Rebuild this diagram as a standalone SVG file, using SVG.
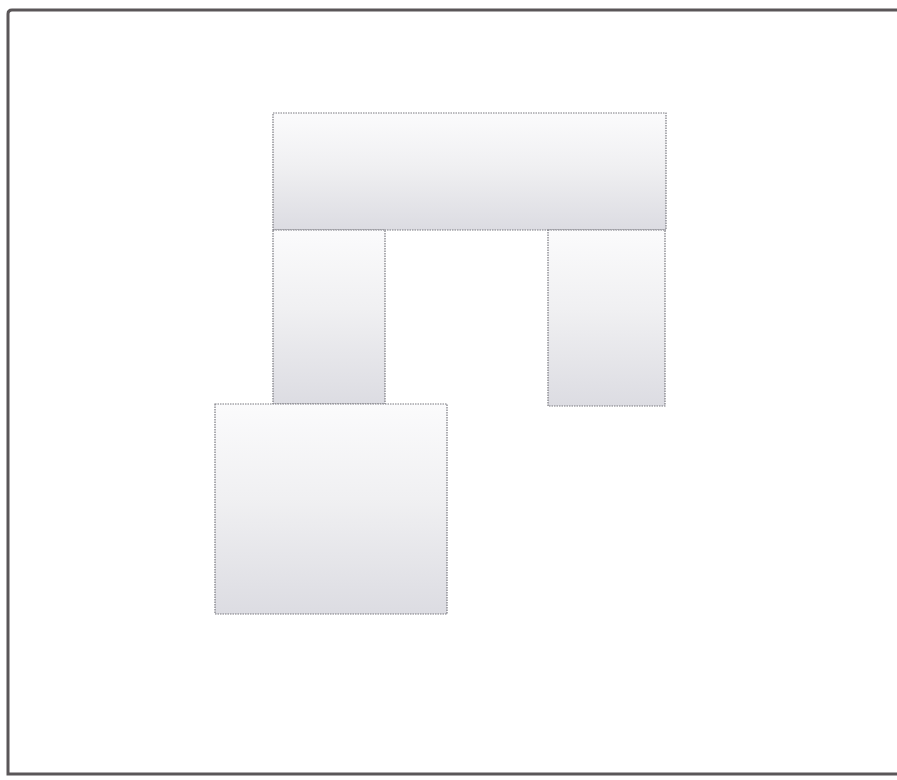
<svg xmlns="http://www.w3.org/2000/svg" width="897" height="780" viewBox="0 0 897 780">
<style>
.box{fill:url(#g);stroke:#7a7a80;stroke-width:1.2;stroke-dasharray:1.5 1}
.frame{fill:none;stroke:#5a5658;stroke-width:3}
</style>
<defs>
<linearGradient id="g" x1="0" y1="0" x2="0" y2="1">
<stop offset="0" stop-color="#fbfbfc"/>
<stop offset="0.45" stop-color="#f0f0f2"/>
<stop offset="1" stop-color="#dcdce2"/>
</linearGradient>
</defs>
<rect width="897" height="780" fill="#ffffff"/>
<path class="frame" d="M899 10 L12 10 Q8 10 8 14 L8 774 L899 774"/>
<g id="top"><rect class="box" x="273" y="113" width="393" height="117"/></g>
<g id="left-pillar"><rect class="box" x="273" y="230" width="112" height="174"/></g>
<g id="right-pillar"><rect class="box" x="548" y="230" width="117" height="176"/></g>
<g id="bottom"><rect class="box" x="215" y="404" width="232" height="210"/></g>
<g id="connectors"/>
</svg>
